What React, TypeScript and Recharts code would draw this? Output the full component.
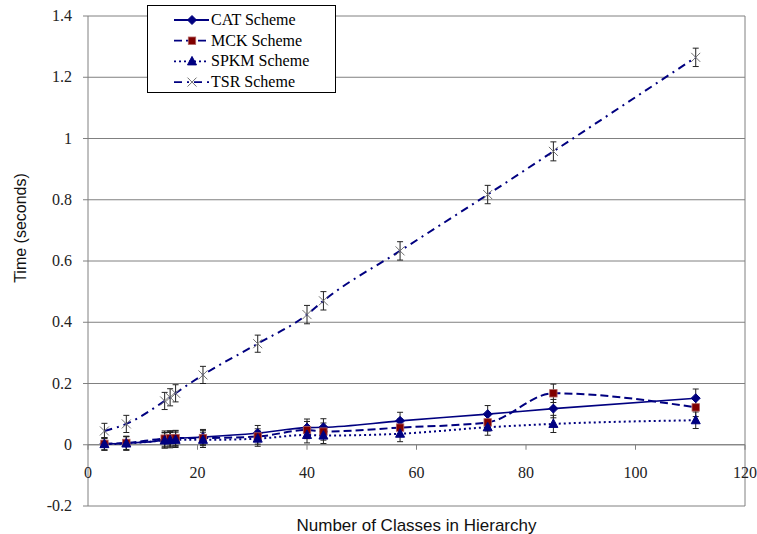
import { CartesianGrid, ErrorBar, Legend, Line, LineChart, ReferenceLine, XAxis, YAxis } from "recharts";

const classes = [3, 7, 14, 15, 16, 21, 31, 40, 43, 57, 73, 85, 111];
const cat = [0.003, 0.005, 0.015, 0.018, 0.02, 0.025, 0.038, 0.056, 0.057, 0.078, 0.1, 0.118, 0.152];
const catErr = [0.02, 0.022, 0.025, 0.025, 0.025, 0.025, 0.025, 0.028, 0.028, 0.028, 0.028, 0.03, 0.03];
const mck = [0.003, 0.006, 0.02, 0.021, 0.022, 0.022, 0.027, 0.048, 0.043, 0.056, 0.073, 0.168, 0.122];
const mckErr = [0.02, 0.022, 0.025, 0.025, 0.025, 0.025, 0.025, 0.028, 0.028, 0.028, 0.028, 0.03, 0.03];
const spkm = [0.002, 0.004, 0.014, 0.015, 0.016, 0.016, 0.02, 0.032, 0.03, 0.036, 0.057, 0.068, 0.08];
const spkmErr = [0.02, 0.022, 0.025, 0.025, 0.025, 0.025, 0.025, 0.026, 0.026, 0.026, 0.026, 0.028, 0.027];
const tsr = [0.045, 0.068, 0.143, 0.155, 0.168, 0.228, 0.33, 0.425, 0.47, 0.633, 0.817, 0.958, 1.265];
const tsrErr = [0.025, 0.028, 0.028, 0.028, 0.028, 0.028, 0.028, 0.03, 0.03, 0.03, 0.03, 0.031, 0.03];

const xTicks = [0, 20, 40, 60, 80, 100, 120];
const yTicks = [-0.2, 0, 0.2, 0.4, 0.6, 0.8, 1, 1.2, 1.4];

const rows = classes.map((x, i) => ({
  x,
  cat: cat[i], catErr: catErr[i],
  mck: mck[i], mckErr: mckErr[i],
  spkm: spkm[i], spkmErr: spkmErr[i],
  tsr: tsr[i], tsrErr: tsrErr[i],
}));

const NAVY = "#000080";
const RED = "#800000";
const AXIS = "#808080";
const SERIF = "Liberation Serif, DejaVu Serif, serif";
const SANS = "Liberation Sans, Arial, sans-serif";

// plot area (px) — used to put the x axis line/ticks on y = 0
const TOP = 16;
const H = 490;
const Y0 = TOP + (H * 1.4) / 1.6;

const Diamond = ({ cx, cy }: any) => (
  <path d={`M${cx},${cy - 4.5}L${cx + 4.5},${cy}L${cx},${cy + 4.5}L${cx - 4.5},${cy}Z`} fill={NAVY} stroke={NAVY} />
);
const Square = ({ cx, cy }: any) => (
  <rect x={cx - 3.7} y={cy - 3.7} width={7.4} height={7.4} fill={RED} stroke="#b06060" strokeWidth={0.8} />
);
const Triangle = ({ cx, cy }: any) => (
  <path d={`M${cx},${cy - 5}L${cx + 4.5},${cy + 3.5}L${cx - 4.5},${cy + 3.5}Z`} fill={NAVY} stroke={NAVY} />
);
const Cross = ({ cx, cy }: any) => (
  <path d={`M${cx - 4.5},${cy - 4.5}L${cx + 4.5},${cy + 4.5}M${cx + 4.5},${cy - 4.5}L${cx - 4.5},${cy + 4.5}`} stroke="#707070" strokeWidth={1} fill="none" />
);

const XTick = ({ x, payload }: any) => (
  <g>
    <line x1={x} x2={x} y1={Y0} y2={Y0 + 5} stroke={AXIS} />
    <text x={x} y={Y0 + 33} textAnchor="middle" style={{ fontFamily: SERIF }} fontSize={16} fill="#222">
      {payload.value}
    </text>
  </g>
);

const YTick = ({ x, y, payload }: any) => (
  <text x={x} y={y + 5} textAnchor="end" style={{ fontFamily: SERIF }} fontSize={16} fill="#222">
    {String(Math.round(payload.value * 10) / 10)}
  </text>
);

const YTitle = () => (
  <text x={26} y={228} transform="rotate(-90 26 228)" textAnchor="middle" style={{ fontFamily: SANS }} fontSize={16} fill="#111">
    Time (seconds)
  </text>
);

const legendItems = [
  { name: "CAT Scheme", dash: undefined, Mark: Diamond },
  { name: "MCK Scheme", dash: "8 4", Mark: Square },
  { name: "SPKM Scheme", dash: "2 3", Mark: Triangle },
  { name: "TSR Scheme", dash: "8 5 2 5", Mark: Cross },
];

function LegendBox() {
  return (
    <div style={{ width: 187, height: 86, border: "1px solid #000", background: "#fff" }}>
      <svg width={187} height={86}>
        {legendItems.map((it, i) => {
          const y = 14 + i * 20.7;
          return (
            <g key={it.name}>
              <line x1={26} x2={61} y1={y} y2={y} stroke={NAVY} strokeWidth={1.8} strokeDasharray={it.dash} />
              <it.Mark cx={44} cy={y} />
              <text x={63} y={y + 5} style={{ fontFamily: SERIF }} fontSize={16} fill="#000">
                {it.name}
              </text>
            </g>
          );
        })}
      </svg>
    </div>
  );
}

export default function App() {
  return (
    <div style={{ position: "absolute", left: 0, top: 0, width: 757, height: 534, background: "#fff" }}>
      <LineChart width={757} height={534} data={rows} margin={{ top: TOP, right: 12, left: 28, bottom: 0 }}>
        <CartesianGrid vertical={false} stroke={AXIS} />
        <XAxis
          type="number"
          dataKey="x"
          domain={[0, 120]}
          ticks={xTicks}
          interval={0}
          axisLine={false}
          tickLine={false}
          tick={<XTick />}
          height={28}
          label={{ value: "Number of Classes in Hierarchy", position: "insideBottom", offset: 3, style: { fontFamily: SANS }, fontSize: 17, fill: "#111" }}
        />
        <YAxis
          type="number"
          domain={[-0.2, 1.4]}
          ticks={yTicks}
          interval={0}
          width={60}
          stroke={AXIS}
          tickSize={5}
          tickMargin={11}
          tick={<YTick />}
          label={<YTitle />}
        />
        <ReferenceLine y={0} stroke={AXIS} />
        <ReferenceLine x={120} stroke={AXIS} />
        <Legend
          content={<LegendBox />}
          layout="vertical"
          align="center"
          verticalAlign="middle"
          wrapperStyle={{ left: 147, top: 5, width: 189, height: 88 }}
        />
        <Line type="monotone" dataKey="cat" stroke={NAVY} strokeWidth={1.6} dot={<Diamond />} isAnimationActive={false}>
          <ErrorBar dataKey="catErr" width={3} stroke="#222" strokeWidth={1} direction="y" />
        </Line>
        <Line type="monotone" dataKey="mck" stroke={NAVY} strokeWidth={2} strokeDasharray="8 4" dot={<Square />} isAnimationActive={false}>
          <ErrorBar dataKey="mckErr" width={3} stroke="#222" strokeWidth={1} direction="y" />
        </Line>
        <Line type="monotone" dataKey="spkm" stroke={NAVY} strokeWidth={2} strokeDasharray="2 3" dot={<Triangle />} isAnimationActive={false}>
          <ErrorBar dataKey="spkmErr" width={3} stroke="#222" strokeWidth={1} direction="y" />
        </Line>
        <Line type="monotone" dataKey="tsr" stroke={NAVY} strokeWidth={2} strokeDasharray="8 5 2 5" dot={<Cross />} isAnimationActive={false}>
          <ErrorBar dataKey="tsrErr" width={3} stroke="#222" strokeWidth={1} direction="y" />
        </Line>
      </LineChart>
    </div>
  );
}
